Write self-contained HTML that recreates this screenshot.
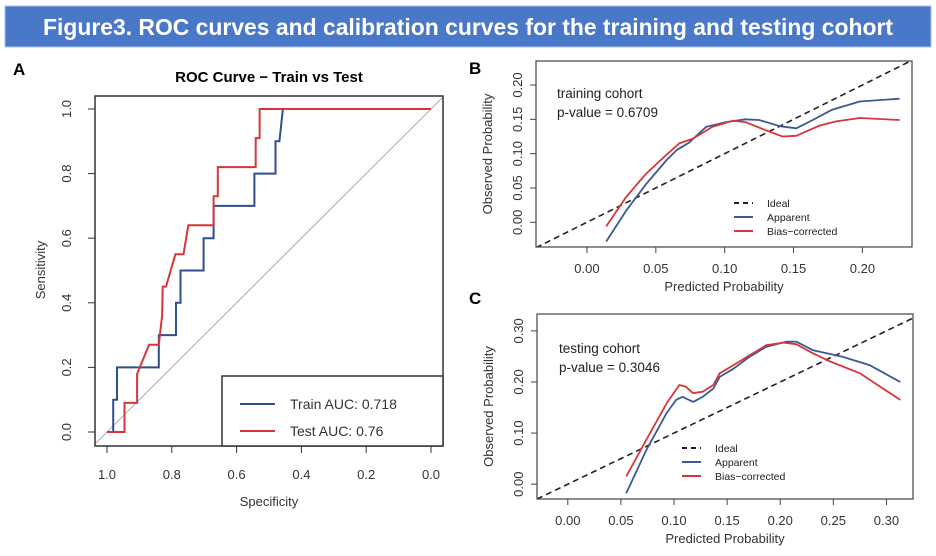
<!DOCTYPE html>
<html><head><meta charset="utf-8"><style>
html,body{margin:0;padding:0;background:#fff;width:936px;height:556px;overflow:hidden}
svg{display:block;font-family:"Liberation Sans",Arial,sans-serif}
</style></head><body>
<svg id="fig" width="936" height="556" viewBox="0 0 936 556">
<rect x="5" y="6" width="926" height="41" fill="#4a78c8" stroke="#aac0e8" stroke-width="1"/>
<text x="468" y="35" text-anchor="middle" fill="#fff" font-size="23" font-weight="bold" textLength="850" lengthAdjust="spacingAndGlyphs">Figure3. ROC curves and calibration curves for the training and testing cohort</text>
<g id="panelA"></g>
<g id="panelB"></g>
<g id="panelC"></g>
</svg>
<script>
// ROC data (specificity, sensitivity)
const trainSpec = [1.0,0.981,0.981,0.969,0.969,0.84,0.84,0.787,0.787,0.773,0.773,0.702,0.702,0.671,0.671,0.661,0.545,0.545,0.48,0.48,0.468,0.457,0.0];
const trainSens = [0.0,0.0,0.1,0.1,0.2,0.2,0.3,0.3,0.4,0.4,0.5,0.5,0.6,0.6,0.7,0.7,0.7,0.8,0.8,0.9,0.9,1.0,1.0];
const testSpec = [1.0,0.946,0.946,0.907,0.907,0.87,0.84,0.83,0.828,0.818,0.789,0.764,0.749,0.671,0.671,0.658,0.658,0.541,0.541,0.529,0.529,0.0];
const testSens = [0.0,0.0,0.09,0.09,0.18,0.27,0.27,0.36,0.45,0.45,0.55,0.55,0.64,0.64,0.73,0.73,0.82,0.82,0.91,0.91,1.0,1.0];
const rocTicks = [0.0,0.2,0.4,0.6,0.8,1.0];
// Calibration B (training)
const bAppX = [0.014,0.0285,0.043,0.0575,0.065,0.074,0.0865,0.101,0.115,0.125,0.14,0.152,0.164,0.178,0.198,0.227];
const bAppY = [-0.028,0.017,0.056,0.090,0.105,0.116,0.139,0.146,0.150,0.149,0.140,0.137,0.149,0.164,0.176,0.180];
const bBiasX = [0.014,0.0285,0.043,0.0575,0.067,0.077,0.091,0.106,0.115,0.130,0.142,0.152,0.169,0.181,0.198,0.227];
const bBiasY = [-0.006,0.037,0.071,0.098,0.115,0.122,0.139,0.148,0.146,0.134,0.125,0.126,0.141,0.147,0.152,0.149];
const bXTicks = [0.00,0.05,0.10,0.15,0.20];
const bYTicks = [0.00,0.05,0.10,0.15,0.20];
// Calibration C (testing)
const cAppX = [0.055,0.074,0.093,0.102,0.108,0.118,0.127,0.137,0.143,0.156,0.171,0.187,0.206,0.215,0.231,0.259,0.284,0.313];
const cAppY = [-0.018,0.067,0.139,0.165,0.171,0.161,0.171,0.187,0.210,0.226,0.249,0.269,0.279,0.279,0.262,0.249,0.233,0.200];
const cBiasX = [0.055,0.074,0.093,0.105,0.111,0.118,0.127,0.137,0.143,0.156,0.171,0.187,0.203,0.215,0.231,0.247,0.275,0.313];
const cBiasY = [0.015,0.087,0.158,0.194,0.191,0.178,0.181,0.194,0.217,0.233,0.252,0.272,0.277,0.274,0.256,0.240,0.217,0.165];
const cXTicks = [0.00,0.05,0.10,0.15,0.20,0.25,0.30];
const cYTicks = [0.00,0.10,0.20,0.30];

const NS="http://www.w3.org/2000/svg";
function mk(parent,tag,attrs,txt){const e=document.createElementNS(NS,tag);for(const k in attrs)e.setAttribute(k,attrs[k]);if(txt!==undefined)e.textContent=txt;parent.appendChild(e);return e;}
function scale(d0,d1,p0,p1){return v=>p0+(v-d0)/(d1-d0)*(p1-p0);}
function pts(xs,ys,sx,sy){return xs.map((x,i)=>sx(x).toFixed(1)+","+sy(ys[i]).toFixed(1)).join(" ");}

// Panel A
(function(){
const g=document.getElementById('panelA');
const sx=scale(1,0,107,431), sy=scale(0,1,432,109);
const L=95,R=443,T=96,B=446;
let t=mk(g,'text',{x:13,y:75,'font-size':17,'font-weight':'bold'},'A');

t=mk(g,'text',{x:269,y:82,'text-anchor':'middle','font-size':15,'font-weight':'bold'},'ROC Curve − Train vs Test');

mk(g,'defs',{}).innerHTML='<clipPath id="clipA"><rect x="95" y="96" width="348" height="350"/></clipPath>';
let d=mk(g,'line',{x1:sx(1.04),y1:sy(-0.04),x2:sx(-0.04),y2:sy(1.04),stroke:'#aaa','stroke-width':1,'clip-path':'url(#clipA)'});

let p=mk(g,'polyline',{points:pts(trainSpec,trainSens,sx,sy),fill:'none',stroke:'#2f4f8f','stroke-width':2});

p=mk(g,'polyline',{points:pts(testSpec,testSens,sx,sy),fill:'none',stroke:'#d8353a','stroke-width':2});

let box=mk(g,'rect',{x:L,y:T,width:R-L,height:B-T,fill:'none',stroke:'#333','stroke-width':1.5});

rocTicks.forEach(v=>{
 mk(g,'line',{x1:sx(v),y1:B,x2:sx(v),y2:B+7,stroke:'#333'});
 let a=mk(g,'text',{x:sx(v),y:479,'text-anchor':'middle','font-size':13,fill:'#333'},v.toFixed(1));
 
 mk(g,'line',{x1:L,y1:sy(v),x2:L-7,y2:sy(v),stroke:'#333'});
 let b=mk(g,'text',{x:0,y:0,'text-anchor':'middle','font-size':13,fill:'#333',transform:`translate(71,${sy(v)}) rotate(-90)`},v.toFixed(1));
 
});
t=mk(g,'text',{x:269,y:506,'text-anchor':'middle','font-size':13,fill:'#333'},'Specificity');

t=mk(g,'text',{x:0,y:0,'text-anchor':'middle','font-size':13,fill:'#333',transform:'translate(45,270) rotate(-90)'},'Sensitivity');

let lg=mk(g,'g',{});
mk(lg,'rect',{x:222,y:376,width:221,height:70,fill:'#fff',stroke:'#333','stroke-width':1.5});
mk(lg,'line',{x1:240,y1:404,x2:275,y2:404,stroke:'#2f4f8f','stroke-width':2});
mk(lg,'line',{x1:240,y1:431,x2:275,y2:431,stroke:'#d8353a','stroke-width':2});
let e=mk(lg,'text',{x:290,y:409,'font-size':14,fill:'#333'},'Train AUC: 0.718');

e=mk(lg,'text',{x:290,y:436,'font-size':14,fill:'#333'},'Test AUC: 0.76');

})();

function calib(id,cfg){
 const g=document.getElementById(id);
 const sx=scale(cfg.x0,cfg.x1,cfg.L,cfg.R), sy=scale(cfg.y0,cfg.y1,cfg.B,cfg.T);
 let t=mk(g,'text',{x:cfg.labX,y:cfg.labY,'font-size':17,'font-weight':'bold'},cfg.label);
 
 mk(g,'defs',{}).innerHTML=`<clipPath id="clip${id}"><rect x="${cfg.L}" y="${cfg.T}" width="${cfg.R-cfg.L}" height="${cfg.B-cfg.T}"/></clipPath>`;
 let d=mk(g,'line',{x1:sx(cfg.x0),y1:sy(cfg.x0),x2:sx(cfg.x1),y2:sy(cfg.x1),stroke:'#222','stroke-width':1.6,'stroke-dasharray':'6,4','clip-path':`url(#clip${id})`});
 
 let p=mk(g,'polyline',{points:pts(cfg.ax,cfg.ay,sx,sy),fill:'none',stroke:'#3a5a92','stroke-width':1.8,'stroke-linejoin':'round'});
 
 p=mk(g,'polyline',{points:pts(cfg.bx,cfg.by,sx,sy),fill:'none',stroke:'#d8353a','stroke-width':1.8,'stroke-linejoin':'round'});
 
 let box=mk(g,'rect',{x:cfg.L,y:cfg.T,width:cfg.R-cfg.L,height:cfg.B-cfg.T,fill:'none',stroke:'#444','stroke-width':1.2});
 
 cfg.xt.forEach(v=>{
  mk(g,'line',{x1:sx(v),y1:cfg.B,x2:sx(v),y2:cfg.B+6,stroke:'#444'});
  let a=mk(g,'text',{x:sx(v),y:cfg.B+26,'text-anchor':'middle','font-size':13,fill:'#333'},v.toFixed(2));
  
 });
 cfg.yt.forEach(v=>{
  mk(g,'line',{x1:cfg.L,y1:sy(v),x2:cfg.L-6,y2:sy(v),stroke:'#444'});
  let b=mk(g,'text',{x:0,y:0,'text-anchor':'middle','font-size':13,fill:'#333',transform:`translate(${cfg.L-14},${sy(v)}) rotate(-90)`},v.toFixed(2));
  
 });
 t=mk(g,'text',{x:(cfg.L+cfg.R)/2,y:cfg.B+44,'text-anchor':'middle','font-size':13,fill:'#333'},'Predicted Probability');
 
 t=mk(g,'text',{x:0,y:0,'text-anchor':'middle','font-size':13,fill:'#333',transform:`translate(${cfg.L-44},${(cfg.T+cfg.B)/2}) rotate(-90)`},'Observed Probability');
 
 t=mk(g,'text',{x:cfg.txX,y:cfg.txY,'font-size':13.5,fill:'#222'},cfg.cohort);
 
 t=mk(g,'text',{x:cfg.txX,y:cfg.txY+19,'font-size':13.5,fill:'#222'},cfg.pval);
 
 let lg=mk(g,'g',{});
 const names=['Ideal','Apparent','Bias−corrected'],cols=['#222','#3a5a92','#d8353a'];
 names.forEach((n,i)=>{
  const y=cfg.lgY+i*14;
  mk(lg,'line',{x1:cfg.lgX,y1:y,x2:cfg.lgX+19,y2:y,stroke:cols[i],'stroke-width':2,'stroke-dasharray':i==0?'5,4':'none'});
  let e=mk(lg,'text',{x:cfg.lgX+33,y:y+4,'font-size':10.5,fill:'#222'},n);
  
 });
}
calib('panelB',{L:536,R:912,T:61,B:247,x0:-0.037,x1:0.236,y0:-0.036,y1:0.235,labX:469,labY:74,label:'B',
 ax:bAppX,ay:bAppY,bx:bBiasX,by:bBiasY,xt:bXTicks,yt:bYTicks,cohort:'training cohort',pval:'p-value = 0.6709',txX:557,txY:98,lgX:734,lgY:203});
calib('panelC',{L:537,R:913,T:314,B:499,x0:-0.029,x1:0.325,y0:-0.029,y1:0.333,labX:469,labY:304,label:'C',
 ax:cAppX,ay:cAppY,bx:cBiasX,by:cBiasY,xt:cXTicks,yt:cYTicks,cohort:'testing cohort',pval:'p-value = 0.3046',txX:559,txY:353,lgX:682,lgY:448});
</script>
</body></html>
